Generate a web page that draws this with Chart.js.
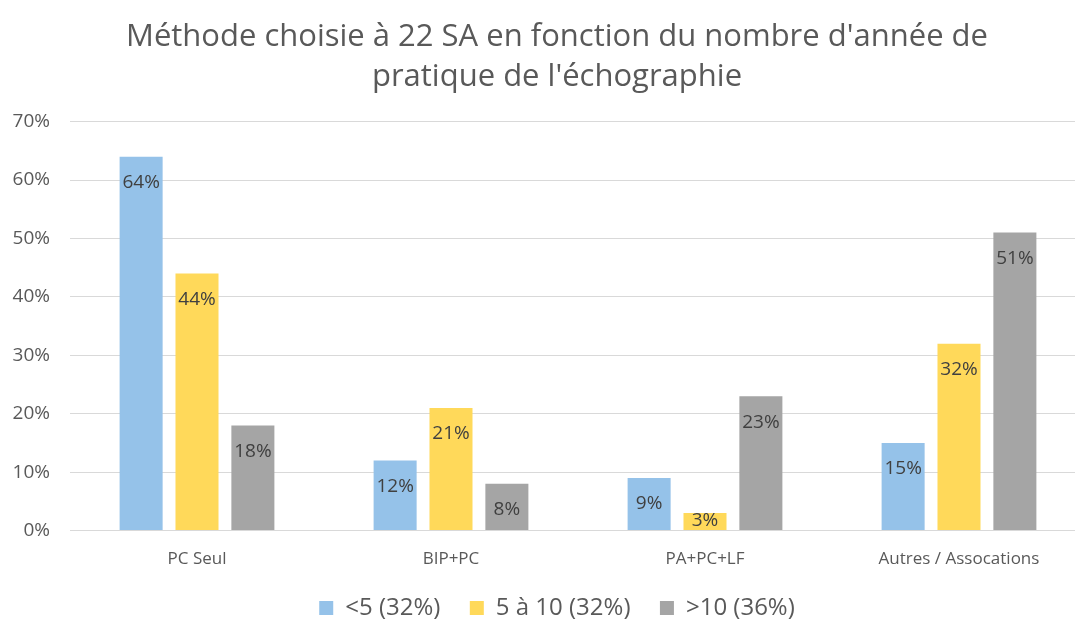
<!DOCTYPE html>
<html>
<head>
<meta charset="utf-8">
<script src="https://cdn.jsdelivr.net/npm/chart.js@4/dist/chart.umd.min.js"></script>
<style>
    html, body { margin: 0; padding: 0; background: #fff; overflow: hidden; }
    .wrap { width: 1090px; height: 630px; }
</style>
</head>
<body>
<div class="wrap"><canvas id="chart"></canvas></div>
<script>
const categories = ['PC Seul', 'BIP+PC', 'PA+PC+LF', 'Autres / Assocations'];
const series_names = ['<5 (32%)', '5 à 10 (32%)', '>10 (36%)'];
const under_5 = [64, 12, 9, 15];
const from_5_to_10 = [44, 21, 3, 32];
const over_10 = [18, 8, 23, 51];
const y_ticks = [0, 10, 20, 30, 40, 50, 60, 70];

const colors = ['#95C2E9', '#FFD95A', '#A5A5A5'];
const font_family = '"Open Sans", Lato, sans-serif';

// labels drawn inside the top of each bar
const barLabels = {
    id: 'barLabels',
    afterDatasetsDraw(chart) {
        const ctx = chart.ctx;
        ctx.save();
        ctx.font = '19px ' + font_family;
        ctx.fillStyle = '#404040';
        ctx.textAlign = 'center';
        ctx.textBaseline = 'middle';
        chart.data.datasets.forEach((ds, i) => {
            chart.getDatasetMeta(i).data.forEach((bar, j) => {
                let y = bar.y + 26;
                if (y > bar.base - 10) y = bar.base - 10;
                ctx.fillText(ds.data[j] + '%', bar.x, y);
            });
        });
        ctx.restore();
    }
};

// the y axis sits inside the left padding, so widen its label clip box
const wideYLabels = {
    id: 'wideYLabels',
    afterLayout(chart) {
        chart.scales.y.left = 0;
    }
};

const data = {
    labels: categories,
    datasets: [under_5, from_5_to_10, over_10].map((v, i) => ({
        label: series_names[i],
        data: v,
        backgroundColor: colors[i],
        borderWidth: 0,
        categoryPercentage: 0.66,
        barPercentage: 0.77,
    }))
};

const config = {
    type: 'bar',
    data: data,
    plugins: [barLabels, wideYLabels],
    options: {
        responsive: true,
        maintainAspectRatio: false,
        animation: false,
        layout: { padding: { left: 28, right: 4, top: 17, bottom: 0 } },
        plugins: {
            title: {
                display: true,
                text: ["Méthode choisie à 22 SA en fonction du nombre d'année de", "pratique de l'échographie"],
                color: '#595959',
                font: { family: font_family, size: 31, weight: 'normal', lineHeight: 1.3 },
                padding: { top: 0, bottom: 24 },
                align: 'center',
            },
            legend: {
                position: 'bottom',
                labels: {
                    color: '#595959',
                    font: { family: font_family, size: 24 },
                    boxWidth: 14,
                    boxHeight: 14,
                    padding: 17,
                    // a bit more room between the items
                    generateLabels: (chart) => {
                        const items = Chart.defaults.plugins.legend.labels.generateLabels(chart);
                        items.forEach((it, i) => {
                            if (i < items.length - 1) it.text = it.text + '  ';
                        });
                        return items;
                    },
                },
            },
            tooltip: { enabled: false },
        },
        scales: {
            x: {
                grid: { display: false },
                border: { color: '#D9D9D9', width: 1 },
                ticks: { color: '#595959', font: { family: font_family, size: 17 }, padding: 10 },
            },
            y: {
                min: 0,
                max: 70,
                afterBuildTicks: (axis) => { axis.ticks = y_ticks.map(v => ({ value: v })); },
                afterFit: (axis) => { axis.width = 42; },
                grid: { color: '#D9D9D9', lineWidth: 1, drawTicks: false },
                border: { display: false },
                ticks: {
                    color: '#595959',
                    font: { family: font_family, size: 19 },
                    padding: 20,
                    callback: (v) => v + '%',
                },
            },
        },
    },
};

new Chart(document.getElementById('chart'), config);
</script>
</body>
</html>
